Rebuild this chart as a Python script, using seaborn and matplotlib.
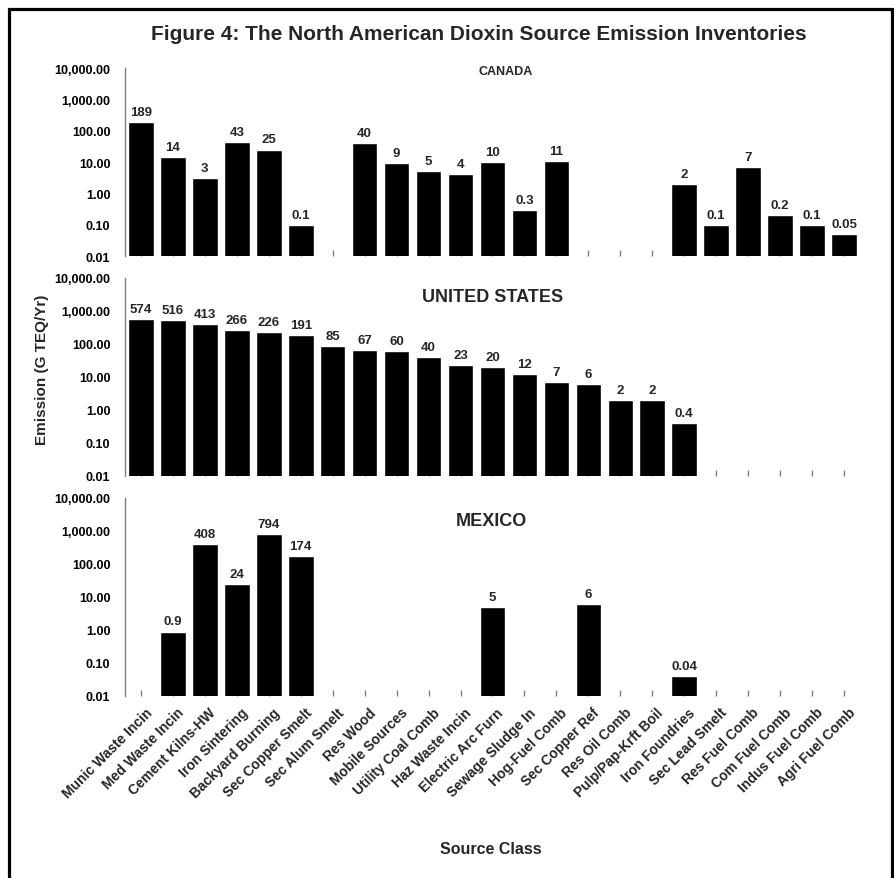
import matplotlib
matplotlib.use("Agg")
import numpy as np
import pandas as pd
import matplotlib.pyplot as plt
import seaborn as sns
from matplotlib.patches import Rectangle
from matplotlib.ticker import FixedLocator, NullLocator
from matplotlib.transforms import ScaledTranslation

# ---- data -----------------------------------------------------------------
sources = [
    "Munic Waste Incin", "Med Waste Incin", "Cement Kilns-HW", "Iron Sintering",
    "Backyard Burning", "Sec Copper Smelt", "Sec Alum Smelt", "Res Wood",
    "Mobile Sources", "Utility Coal Comb", "Haz Waste Incin", "Electric Arc Furn",
    "Sewage Sludge In", "Hog-Fuel Comb", "Sec Copper Ref", "Res Oil Comb",
    "Pulp/Pap-Krft Boil", "Iron Foundries", "Sec Lead Smelt", "Res Fuel Comb",
    "Com Fuel Comb", "Indus Fuel Comb", "Agri Fuel Comb",
]
canada = [189, 14, 3, 43, 25, 0.1, None, 40, 9, 5, 4, 10, 0.3, 11,
          None, None, None, 2, 0.1, 7, 0.2, 0.1, 0.05]
united_states = [574, 516, 413, 266, 226, 191, 85, 67, 60, 40, 23, 20, 12, 7,
                 6, 2, 2, 0.4, None, None, None, None, None]
mexico = [None, 0.9, 408, 24, 794, 174, None, None, None, None, None, 5,
          None, None, 6, None, None, 0.04, None, None, None, None, None]
countries = ["CANADA", "UNITED STATES", "MEXICO"]

y_ticks = [0.01, 0.1, 1, 10, 100, 1000, 10000]
y_tick_labels = ["0.01", "0.10", "1.00", "10.00", "100.00", "1,000.00", "10,000.00"]

title = "Figure 4: The North American Dioxin Source Emission Inventories"
y_title = "Emission (G TEQ/Yr)"
x_title = "Source Class"

# ---- style ----------------------------------------------------------------
sns.set_style("white")
plt.rcParams["font.family"] = ["Liberation Sans", "DejaVu Sans"]
plt.rcParams["font.weight"] = "bold"

W, H = 895, 879
fig = plt.figure(figsize=(W / 100, H / 100), dpi=100)


def fx(px):
    return px / W


def fy(py):
    return 1 - py / H


# panel extents in pixels: (top, bottom)
panel_px = [(69, 257), (279, 477), (499, 697)]
left_px, right_px = 125, 860
label_px = [(506, 72), (493, 298), (491, 521)]
label_size = [9, 13, 13]
series = [canada, united_states, mexico]
grey = "#808080"

for k, (name, vals) in enumerate(zip(countries, series)):
    top, bot = panel_px[k]
    ax = fig.add_axes([fx(left_px), fy(bot), fx(right_px - left_px), (bot - top) / H])
    df = pd.DataFrame({"source": sources, "emission": vals}).dropna()
    sns.barplot(data=df, x="source", y="emission", order=sources, color="black",
                saturation=1, width=0.8, errorbar=None, ax=ax)
    ax.set_yscale("log")
    ax.set_ylim(0.01, 10000)
    ax.set_xlim(-0.5, len(sources) - 0.5)
    ax.yaxis.set_major_locator(FixedLocator(y_ticks))
    ax.yaxis.set_minor_locator(NullLocator())
    ax.set_yticklabels(y_tick_labels)
    ax.set_xlabel("")
    ax.set_ylabel("")
    for side in ("top", "right", "bottom"):
        ax.spines[side].set_visible(False)
    ax.spines["left"].set_color(grey)
    ax.spines["left"].set_linewidth(1.0)
    ax.tick_params(axis="y", direction="in", length=5, width=1, color=grey,
                   pad=10.5, labelsize=9, labelcolor="black")
    ax.tick_params(axis="x", direction="in", length=4, width=1, color=grey,
                   bottom=True)
    ax.set_xticks(range(len(sources)))
    for t in ax.get_yticklabels():
        t.set_fontweight("bold")

    # value labels above bars
    for i, v in enumerate(vals):
        if v is None:
            continue
        ax.annotate(f"{v:g}", xy=(i, v), xytext=(0, 3), textcoords="offset points",
                    ha="center", va="bottom", fontsize=9.5, fontweight="bold")

    if k < 2:
        ax.set_xticklabels([""] * len(sources))
    else:
        ax.set_xticklabels(sources, rotation=45, ha="right", va="center",
                           rotation_mode="anchor", fontsize=10, fontweight="bold")
        shift = ScaledTranslation(0.09, -0.09, fig.dpi_scale_trans)
        for t in ax.get_xticklabels():
            t.set_transform(t.get_transform() + shift)

    lx, ly = label_px[k]
    fig.text(fx(lx), fy(ly), name, ha="center", va="center",
             fontsize=label_size[k], fontweight="bold")

fig.text(fx(479), fy(34), title, ha="center", va="center", fontsize=15,
         fontweight="bold")
fig.text(fx(42), fy(370), y_title, ha="center", va="center", rotation=90,
         fontsize=11, fontweight="bold")
fig.text(fx(491), fy(850), x_title, ha="center", va="center", fontsize=11.5,
         fontweight="bold")

# outer frame
fig.add_artist(Rectangle((fx(9.5), fy(H + 20)), fx(892.5 - 9.5), (H + 20 - 9.5) / H,
                         transform=fig.transFigure, fill=False, edgecolor="black",
                         linewidth=2.3, clip_on=False))

fig.savefig("out.png", dpi=100)
